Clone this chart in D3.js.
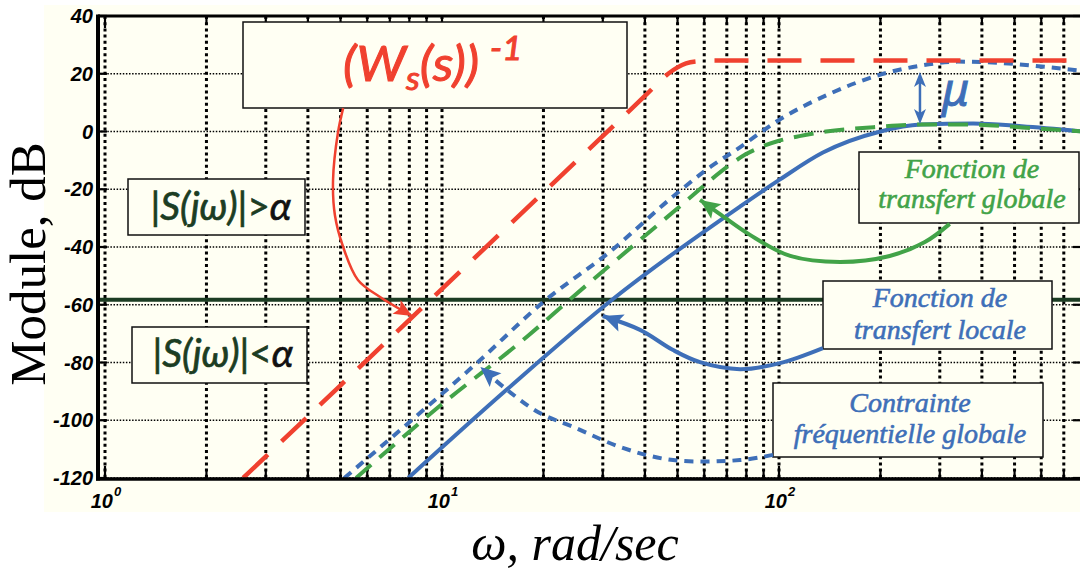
<!DOCTYPE html>
<html><head><meta charset="utf-8">
<script src="https://cdn.jsdelivr.net/npm/d3@7"></script>
<style>body{margin:0;background:#fff}</style>
</head><body>
<svg id="chart" width="1080" height="570" xmlns="http://www.w3.org/2000/svg"></svg>
<script>
// ---------------- data ----------------
const yTicks = [40, 20, 0, -20, -40, -60, -80, -100, -120];
const xDecades = [1, 10, 100];
const xDecadeExp = ["0", "1", "2"];
const alphaDb = -58.3;

// (W_s(s))^-1  (red long dashes)
const wsOmega = [2.57, 5, 10, 20, 40, 47, 50, 53, 57, 65, 100, 300, 1000];
const wsDb    = [-120, -87.9, -54.5, -21.1, 12.3, 20.1, 22.2, 23.6, 24.3, 24.6, 24.6, 24.6, 24.6];

// Contrainte fréquentielle globale (blue dotted)
const cgOmega = [5.13, 7.94, 12.6, 20, 31.6, 48.5, 63, 75, 100, 141, 200, 263, 339, 447, 589, 794];
const cgDb    = [-120, -101, -80.5, -59, -41.5, -22.5, -12, -6.2, 4, 13, 19.7, 22.8, 24.2, 23.8, 22.6, 21];

// Fonction de transfert globale (green dashed)
const tgOmega = [5.56, 9.86, 17.9, 24, 55.6, 63.1, 71.6, 79.4, 89.1, 100, 115, 138, 191, 263, 377, 525, 794];
const tgDb    = [-120, -95, -71, -58.1, -22, -16.5, -11.5, -8, -5.2, -3.2, -1.6, 0, 1.5, 2.4, 2.4, 1.4, 0];

// Fonction de transfert locale (blue solid)
const tlOmega = [7.94, 15.6, 32.1, 76.6, 100.7, 135, 200, 263, 377, 525, 794];
const tlDb    = [-120, -89.3, -58.1, -26, -16.6, -7.3, 0, 2.4, 2.8, 1.8, 0];

// annotation arrows (omega, dB)
const arrowWsOmega = [5.09, 4.91, 4.75, 4.81, 5.09, 5.63, 6.55, 8.15];
const arrowWsDb    = [8.1, -0.5, -16.8, -28.9, -40, -51.4, -57.3, -63.9];
const arrowTgOmega = [321, 271, 213, 152, 108, 82, 66.8, 58.3];
const arrowTgDb    = [-32.0, -38.3, -43.1, -45.2, -43.1, -35.8, -28.6, -23.7];
const arrowTlOmega = [135, 100.7, 76.6, 58.3, 48.5, 38.7, 30.0];
const arrowTlDb    = [-75.0, -80.2, -82.3, -79.9, -75.7, -68.7, -63.9];
const arrowCgOmega = [96, 76.6, 48.5, 34.4, 24.5, 19.5, 15.6, 13.0];
const arrowCgDb    = [-112.0, -113.8, -113.8, -109.6, -102.3, -97.5, -89.5, -81.6];
const muOmega = 262;
const muDb = [20.6, 2.6];

// ---------------- drawing ----------------
const RED = "#f0412f", BLUE = "#3e6fb8", GREEN = "#42a348", DKGREEN = "#1c3d23", CREAM = "#fffff3";
const svg = d3.select("#chart");
const L = 98, R = 1082, T = 16, B = 478;
const x = d3.scaleLog().domain([1, 1000]).range([105, 1116]);
const y = d3.scaleLinear().domain([-120, 40]).range([B, T]);

svg.append("rect").attr("x", 44).attr("y", 5).attr("width", 1036).attr("height", 507).attr("fill", CREAM);

const defs = svg.append("defs");
defs.append("clipPath").attr("id", "clip").append("rect")
  .attr("x", L).attr("y", T).attr("width", R - L).attr("height", B - T);

// minor positions
const minor = [];
xDecades.concat([1000]).forEach(d => { for (let m = 1; m <= 9; m++) { const v = m * d; if (x(v) <= R) minor.push(v); } });

const grid = svg.append("g").attr("clip-path", "url(#clip)");
grid.selectAll("line.h").data(yTicks).join("line").attr("class", "h")
  .attr("x1", L).attr("x2", R).attr("y1", d => y(d)).attr("y2", d => y(d))
  .attr("stroke", "#000").attr("stroke-width", 1.4).attr("stroke-dasharray", "1.5,1.6");
grid.selectAll("line.v").data(minor).join("line").attr("class", "v")
  .attr("x1", d => x(d)).attr("x2", d => x(d)).attr("y1", T).attr("y2", B)
  .attr("stroke", "#000").attr("stroke-width", 3).attr("stroke-dasharray", "3,3.2");

// ticks
const ticks = svg.append("g").attr("stroke", "#000").attr("stroke-width", 2.2);
ticks.selectAll("line.b").data(minor).join("line").attr("class", "b")
  .attr("x1", d => x(d)).attr("x2", d => x(d)).attr("y1", B).attr("y2", d => B - (xDecades.includes(d) ? 12 : 8));
ticks.selectAll("line.t").data(minor).join("line").attr("class", "t")
  .attr("x1", d => x(d)).attr("x2", d => x(d)).attr("y1", T).attr("y2", d => T + (xDecades.includes(d) ? 12 : 8));
ticks.selectAll("line.l").data(yTicks).join("line").attr("class", "l")
  .attr("x1", L).attr("x2", L + 9).attr("y1", d => y(d)).attr("y2", d => y(d));
ticks.selectAll("line.r").data(yTicks).join("line").attr("class", "r")
  .attr("x1", R - 9).attr("x2", R).attr("y1", d => y(d)).attr("y2", d => y(d));

// alpha line
svg.append("line").attr("x1", L).attr("x2", R).attr("y1", y(alphaDb)).attr("y2", y(alphaDb))
  .attr("stroke", DKGREEN).attr("stroke-width", 4);

// curves
const line = d3.line().x(d => x(d[0])).y(d => y(d[1])).curve(d3.curveMonotoneX);
const zip = (a, b) => a.map((v, i) => [v, b[i]]);
const curves = svg.append("g").attr("clip-path", "url(#clip)").attr("fill", "none").attr("stroke-linecap", "butt");
curves.append("path").attr("d", line(zip(tlOmega, tlDb))).attr("stroke", BLUE).attr("stroke-width", 4);
curves.append("path").attr("d", line(zip(tgOmega, tgDb))).attr("stroke", GREEN).attr("stroke-width", 4).attr("stroke-dasharray", "20,11");
curves.append("path").attr("d", line(zip(cgOmega, cgDb))).attr("stroke", BLUE).attr("stroke-width", 4).attr("stroke-dasharray", "9,7");
curves.append("path").attr("d", line(zip(wsOmega, wsDb))).attr("stroke", RED).attr("stroke-width", 4.5).attr("stroke-dasharray", "34,19");

// frame
const frame = svg.append("g").attr("stroke", "#000");
frame.append("line").attr("x1", L).attr("x2", R).attr("y1", T).attr("y2", T).attr("stroke-width", 3);
frame.append("line").attr("x1", L - 2).attr("x2", R).attr("y1", B + 1).attr("y2", B + 1).attr("stroke-width", 3.5);
frame.append("line").attr("x1", L).attr("x2", L).attr("y1", T - 1.5).attr("y2", B + 2.5).attr("stroke-width", 4);

// tick labels
svg.append("g").selectAll("text").data(yTicks).join("text")
  .attr("x", 93).attr("y", d => y(d) + 7).attr("text-anchor", "end")
  .attr("font-family", "'Liberation Sans', Arial, sans-serif").attr("font-weight", "bold").attr("font-style", "italic")
  .attr("font-size", 20).text(d => d);
const xl = svg.append("g").selectAll("text").data(xDecades).join("text")
  .attr("x", d => x(d) + 1).attr("y", 508).attr("text-anchor", "middle")
  .attr("font-family", "'Liberation Sans', Arial, sans-serif").attr("font-weight", "bold").attr("font-style", "italic")
  .attr("font-size", 20);
xl.append("tspan").text("10");
xl.append("tspan").attr("font-size", 13).attr("dy", -12).attr("dx", 1).text((d, i) => xDecadeExp[i]);

// axis titles
svg.append("text").attr("transform", "translate(45,264) rotate(-90)").attr("text-anchor", "middle")
  .attr("font-family", "'Liberation Serif', 'Times New Roman', serif").attr("font-size", 51).text("Module, dB");
svg.append("text").attr("x", 575).attr("y", 560).attr("text-anchor", "middle")
  .attr("font-family", "'Liberation Serif', 'Times New Roman', serif").attr("font-style", "italic").attr("font-size", 50)
  .text("ω, rad/sec");

// boxes
function box(x0, y0, x1, y1) {
  svg.append("rect").attr("x", x0).attr("y", y0).attr("width", x1 - x0).attr("height", y1 - y0)
    .attr("fill", CREAM).attr("stroke", "#111").attr("stroke-width", 1.5);
}
box(243, 22, 627, 108);
box(128, 179, 305, 235);
box(132, 327, 307, 383);
box(859, 152, 1079, 223);
box(823, 281, 1052, 349);
box(773, 383, 1043, 457);

// Ws text
const ws = svg.append("text").attr("transform", "translate(343,81) scale(1.08,1)").attr("fill", RED)
  .attr("stroke", RED).attr("stroke-width", 1)
  .attr("font-family", "Lato, 'Noto Sans', sans-serif").attr("font-style", "italic").attr("font-size", 48);
ws.append("tspan").text("(W");
ws.append("tspan").attr("font-size", 32).attr("dy", 9).text("s");
ws.append("tspan").attr("dy", -9).text("(s))");
ws.append("tspan").attr("font-size", 32).attr("dy", -21).attr("dx", 10).text("-1");

// |S(jw)| texts
function sText(cx, by, op) {
  const t = svg.append("text").attr("x", cx).attr("y", by).attr("text-anchor", "middle")
    .attr("font-family", "Lato, 'Noto Sans', sans-serif").attr("font-size", 39).attr("fill", DKGREEN)
    .attr("stroke", DKGREEN).attr("stroke-width", 0.7);
  t.append("tspan").text("|");
  t.append("tspan").attr("font-style", "italic").text("S(jω)");
  t.append("tspan").text("|" + op);
  t.append("tspan").attr("font-style", "italic").attr("fill", "#111").attr("stroke", "#111").text("α");
}
sText(221, 220, ">");
sText(223, 367, "<");

// serif labels
function label(cx, lines, baselines, color) {
  lines.forEach((s, i) => {
    svg.append("text").attr("x", cx).attr("y", baselines[i]).attr("text-anchor", "middle")
      .attr("font-family", "'Liberation Serif', serif").attr("font-style", "italic").attr("font-size", 28)
      .attr("fill", color).attr("stroke", color).attr("stroke-width", 0.6).text(s);
  });
}
label(972, ["Fonction de", "transfert globale"], [178, 208], GREEN);
label(940, ["Fonction de", "transfert locale"], [307, 339], BLUE);
label(910, ["Contrainte", "fréquentielle globale"], [412, 443], BLUE);

// arrows
const aline = d3.line().x(d => x(d[0])).y(d => y(d[1])).curve(d3.curveCatmullRom);
function arrow(om, db, color, w, dash, hl, hw) {
  const pts = zip(om, db);
  const n = pts.length;
  const p2 = [x(pts[n - 1][0]), y(pts[n - 1][1])];
  const p1 = [x(pts[n - 2][0]), y(pts[n - 2][1])];
  const dx = p2[0] - p1[0], dy = p2[1] - p1[1], len = Math.hypot(dx, dy);
  const ux = dx / len, uy = dy / len;
  const p = svg.append("path").attr("d", aline(pts)).attr("fill", "none").attr("stroke", color).attr("stroke-width", w);
  if (dash) p.attr("stroke-dasharray", dash);
  const bx = p2[0] - ux * hl, by = p2[1] - uy * hl;
  svg.append("path").attr("d", `M${p2[0]},${p2[1]}L${bx - uy * hw},${by + ux * hw}L${bx + ux * 4},${by + uy * 4}L${bx + uy * hw},${by - ux * hw}Z`)
    .attr("fill", color);
}
arrow(arrowWsOmega, arrowWsDb, RED, 2.5, null, 18, 8);
arrow(arrowTgOmega, arrowTgDb, GREEN, 4, null, 20, 9);
arrow(arrowTlOmega, arrowTlDb, BLUE, 4, null, 20, 9);
arrow(arrowCgOmega, arrowCgDb, BLUE, 4, "9,7", 20, 9);

// mu arrow
const muX = x(muOmega);
svg.append("line").attr("x1", muX).attr("x2", muX).attr("y1", y(muDb[0]) + 8).attr("y2", y(muDb[1]) - 8)
  .attr("stroke", BLUE).attr("stroke-width", 2.5);
[0, 1].forEach(i => {
  const ty = y(muDb[i]), s = i === 0 ? 1 : -1;
  svg.append("path").attr("d", `M${muX},${ty}L${muX - 6},${ty + s * 15}L${muX},${ty + s * 11}L${muX + 6},${ty + s * 15}Z`).attr("fill", BLUE);
});
svg.append("text").attr("x", 942).attr("y", 106).attr("fill", BLUE).attr("stroke", BLUE).attr("stroke-width", 1)
  .attr("font-family", "'Noto Sans', sans-serif").attr("font-style", "italic").attr("font-size", 46).text("μ");
</script>
</body></html>
